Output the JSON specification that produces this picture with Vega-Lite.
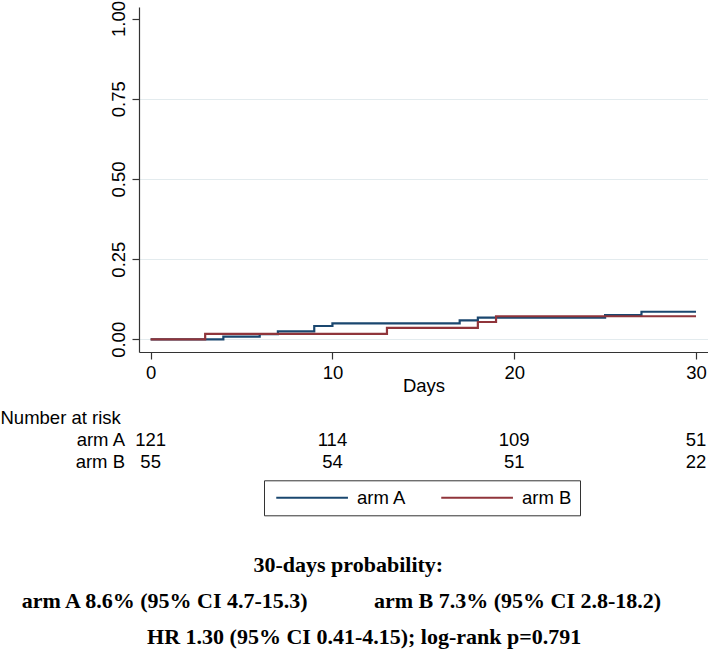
{
  "$schema": "https://vega.github.io/schema/vega-lite/v6.json",
  "background": "white",
  "padding": {"left": 0, "top": 0, "right": 0, "bottom": 8},
  "bounds": "flush",
  "spacing": 79,
  "config": {
    "view": {"stroke": null},
    "font": "Liberation Sans",
    "axis": {
      "domainColor": "#333333",
      "tickColor": "#333333",
      "domainWidth": 1.2,
      "tickWidth": 1.2,
      "labelColor": "black",
      "titleColor": "black",
      "labelFont": "Liberation Sans",
      "titleFont": "Liberation Sans",
      "labelFontSize": 18.5,
      "titleFontSize": 18.5,
      "titleFontWeight": "normal"
    }
  },
  "datasets": {
    "km": [
      {"arm": "arm A", "day": 0, "cuminc": 0},
      {"arm": "arm A", "day": 4, "cuminc": 0.0083},
      {"arm": "arm A", "day": 6, "cuminc": 0.0165},
      {"arm": "arm A", "day": 7, "cuminc": 0.025},
      {"arm": "arm A", "day": 9, "cuminc": 0.0415},
      {"arm": "arm A", "day": 10, "cuminc": 0.0498},
      {"arm": "arm A", "day": 17, "cuminc": 0.059},
      {"arm": "arm A", "day": 18, "cuminc": 0.0675},
      {"arm": "arm A", "day": 25, "cuminc": 0.0755},
      {"arm": "arm A", "day": 27, "cuminc": 0.086},
      {"arm": "arm A", "day": 30, "cuminc": 0.086},
      {"arm": "arm B", "day": 0, "cuminc": 0},
      {"arm": "arm B", "day": 3, "cuminc": 0.017},
      {"arm": "arm B", "day": 13, "cuminc": 0.036},
      {"arm": "arm B", "day": 18, "cuminc": 0.054},
      {"arm": "arm B", "day": 19, "cuminc": 0.072},
      {"arm": "arm B", "day": 30, "cuminc": 0.072}
    ],
    "risk": [
      {"arm": "arm A", "day": 0, "n": 121},
      {"arm": "arm A", "day": 10, "n": 114},
      {"arm": "arm A", "day": 20, "n": 109},
      {"arm": "arm A", "day": 30, "n": 51},
      {"arm": "arm B", "day": 0, "n": 55},
      {"arm": "arm B", "day": 10, "n": 54},
      {"arm": "arm B", "day": 20, "n": 51},
      {"arm": "arm B", "day": 30, "n": 22}
    ],
    "notes": [
      {"line": 1, "xpos": 0.492, "text": "30-days probability:"},
      {"line": 2, "xpos": 0.2326, "text": "arm A 8.6% (95% CI 4.7-15.3)"},
      {"line": 2, "xpos": 0.731, "text": "arm B 7.3% (95% CI 2.8-18.2)"},
      {"line": 3, "xpos": 0.5144, "text": "HR 1.30 (95% CI 0.41-4.15); log-rank p=0.791"}
    ]
  },
  "vconcat": [
    {
      "width": 569,
      "height": 345,
      "data": {"name": "km"},
      "mark": {"type": "line", "interpolate": "step-after", "strokeWidth": 2.2},
      "encoding": {
        "x": {
          "field": "day",
          "type": "quantitative",
          "scale": {"domain": [-0.64, 30.66], "nice": false, "zero": false},
          "axis": {
            "title": "Days",
            "values": [0, 10, 20, 30],
            "format": "d",
            "tickSize": 7,
            "labelPadding": 4,
            "labelFlush": false,
            "labelOverlap": false,
            "grid": false,
            "titleBaseline": "alphabetic",
            "titleY": 39.7
          }
        },
        "y": {
          "field": "cuminc",
          "type": "quantitative",
          "scale": {"domain": [-0.0395, 1.036], "nice": false, "zero": false},
          "axis": {
            "title": null,
            "values": [0, 0.25, 0.5, 0.75, 1],
            "format": ".2f",
            "tickSize": 7,
            "labelAngle": -90,
            "labelAlign": "center",
            "labelBaseline": "alphabetic",
            "labelPadding": 7.5,
            "labelFlush": false,
            "labelOverlap": false,
            "grid": true,
            "gridWidth": 1,
            "gridColor": {"condition": {"test": "datum.value >= 1", "value": "rgba(0,0,0,0)"}, "value": "#e3ebee"}
          }
        },
        "color": {
          "field": "arm",
          "type": "nominal",
          "scale": {"domain": ["arm A", "arm B"], "range": ["#1a476f", "#90353b"]},
          "legend": {
            "title": null,
            "orient": "none",
            "legendX": 125,
            "legendY": 473.3,
            "direction": "horizontal",
            "symbolType": "M-1,0H13.34",
            "symbolSize": 100,
            "symbolStrokeWidth": 2,
            "labelFont": "Liberation Sans",
            "labelFontSize": 18.5,
            "labelColor": "black",
            "labelOffset": 66.5,
            "columnPadding": 30,
            "padding": 8,
            "strokeColor": "#333333",
            "fillColor": "white",
            "cornerRadius": 0
          }
        }
      }
    },
    {
      "width": 569,
      "height": 43.4,
      "data": {"name": "risk"},
      "mark": {"type": "text", "fontSize": 18.5, "font": "Liberation Sans", "align": "center", "baseline": "middle", "color": "black", "dy": -2},
      "encoding": {
        "x": {
          "field": "day",
          "type": "quantitative",
          "scale": {"domain": [-0.64, 30.66], "nice": false, "zero": false},
          "axis": null
        },
        "y": {
          "field": "arm",
          "type": "nominal",
          "scale": {"type": "point", "domain": ["arm A", "arm B"], "padding": 0.5},
          "axis": {
            "title": "Number at risk",
            "titleAngle": 0,
            "titleAlign": "left",
            "titleBaseline": "alphabetic",
            "titleX": -139,
            "titleY": -7.7,
            "domain": false,
            "ticks": false,
            "tickSize": 0,
            "grid": false,
            "labelPadding": 14.5,
            "labelOffset": -2,
            "labelAlign": "right",
            "labelBaseline": "middle"
          }
        },
        "text": {"field": "n", "type": "quantitative"}
      }
    },
    {
      "width": 569,
      "height": 108,
      "data": {"name": "notes"},
      "mark": {"type": "text", "font": "Liberation Serif", "fontWeight": "bold", "fontSize": 22, "align": "center", "baseline": "alphabetic", "color": "black"},
      "encoding": {
        "x": {
          "field": "xpos",
          "type": "quantitative",
          "scale": {"domain": [0, 1], "range": [-139, 569], "nice": false, "zero": false},
          "axis": null
        },
        "y": {
          "field": "line",
          "type": "ordinal",
          "scale": {"type": "point", "domain": [1, 2, 3], "padding": 0.5},
          "axis": null
        },
        "text": {"field": "text", "type": "nominal"}
      }
    }
  ]
}
